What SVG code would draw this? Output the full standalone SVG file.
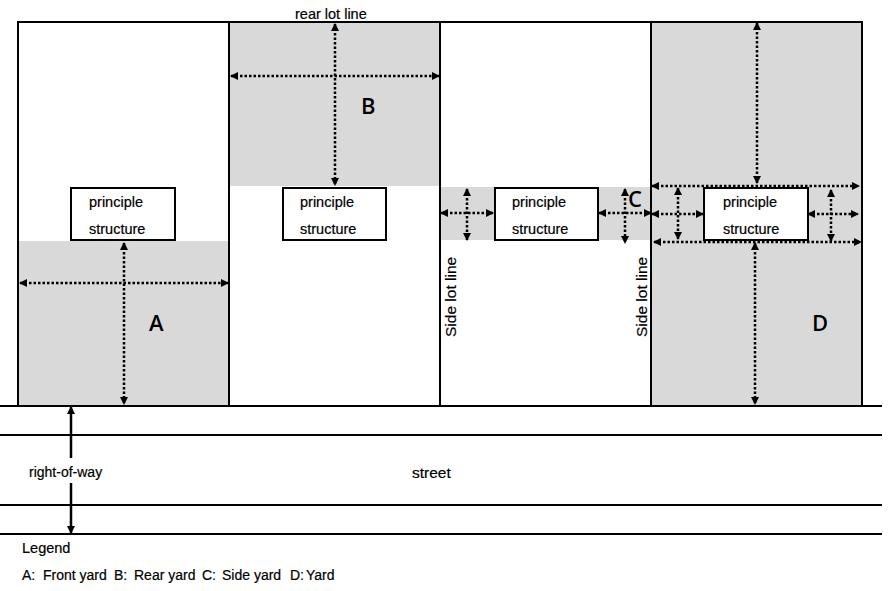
<svg xmlns="http://www.w3.org/2000/svg" width="889" height="591" viewBox="0 0 889 591">
<style>
.yard{fill:#d9d9d9}
.lot{fill:none;stroke:#000;stroke-width:2}
.road{stroke:#000;stroke-width:2}
.box{fill:#fff;stroke:#000;stroke-width:2}
.dot{fill:none;stroke:#000;stroke-width:2.5;stroke-dasharray:2.5 2;marker-start:url(#a);marker-end:url(#a)}
.sol{fill:none;stroke:#000;stroke-width:2.5}
text{font-family:"Liberation Sans",Arial,sans-serif;font-size:14.5px;fill:#000;stroke:#000;stroke-width:.2}
.tight{font-size:14px}
.side{font-size:15.5px}
.big{font-family:"Open Sans","Noto Sans",sans-serif;font-size:22px;font-weight:600;stroke:none}
</style>
<defs>
<marker id="a" viewBox="0 0 8 8" refX="7" refY="4" markerWidth="8" markerHeight="8" markerUnits="userSpaceOnUse" orient="auto-start-reverse"><path d="M0 0L8 4L0 8Z" fill="#000"/></marker>
</defs>
<rect width="889" height="591" fill="#fff"/>
<g id="yards">
<rect class="yard" x="19" y="241" width="210" height="164"/>
<rect class="yard" x="230" y="23" width="210" height="163"/>
<rect class="yard" x="441" y="187" width="210" height="53"/>
<rect class="yard" x="652" y="23" width="210" height="382"/>
</g>
<g id="lots">
<path class="lot" d="M18 405V22H862V405M229 22V405M440 22V405M651 22V405"/>
</g>
<g id="street-lines">
<path class="road" d="M0 406H882M0 435H882M0 505H882M0 534H882"/>
</g>
<g id="connectors">
<path class="dot" d="M124 243V404"/>
<path class="dot" d="M20 283H228"/>
<path class="dot" d="M335 24V185"/>
<path class="dot" d="M231 76H439"/>
<path class="dot" d="M467 189V240"/>
<path class="dot" d="M441 213H493"/>
<path class="dot" d="M625 189V243"/>
<path class="dot" d="M599 213H651"/>
<path class="dot" d="M757 23V183"/>
<path class="dot" d="M652 186H859"/>
<path class="dot" d="M654 242H861"/>
<path class="dot" d="M678 188V239"/>
<path class="dot" d="M652 214H703"/>
<path class="dot" d="M831 190V241"/>
<path class="dot" d="M808 214H858"/>
<path class="dot" d="M755 243V404"/>
<path class="sol" d="M71 407V458" marker-start="url(#a)"/>
<path class="sol" d="M71 483V533" marker-end="url(#a)"/>
</g>
<g id="structure-a"><rect class="box" x="71" y="188" width="104" height="52"/><text x="89" y="207">principle</text><text x="89" y="234">structure</text></g>
<g id="structure-b"><rect class="box" x="283" y="188" width="103" height="52"/><text x="300" y="207">principle</text><text x="300" y="234">structure</text></g>
<g id="structure-c"><rect class="box" x="495" y="188" width="103" height="52"/><text x="512" y="207">principle</text><text x="512" y="234">structure</text></g>
<g id="structure-d"><rect class="box" x="704" y="188" width="104" height="52"/><text x="723" y="207">principle</text><text x="723" y="234">structure</text></g>
<g id="labels">
<text x="295" y="19">rear lot line</text>
<text class="big" x="149" y="331">A</text>
<text class="big" x="361" y="114">B</text>
<text class="big" x="628" y="207">C</text>
<text class="big" x="812" y="331">D</text>
<text class="side" transform="translate(456 337) rotate(-90)">Side lot line</text>
<text class="side" transform="translate(647 337) rotate(-90)">Side lot line</text>
<text class="tight" x="29" y="477">right-of-way</text>
<text class="side" x="412" y="478">street</text>
<text x="22" y="553">Legend</text>
<text class="tight" x="22" y="580">A:</text>
<text class="tight" x="43" y="580">Front yard</text>
<text class="tight" x="114" y="580">B:</text>
<text class="tight" x="134" y="580">Rear yard</text>
<text class="tight" x="202" y="580">C:</text>
<text class="tight" x="222" y="580">Side yard</text>
<text class="tight" x="290" y="580">D:</text>
<text class="tight" x="306" y="580">Yard</text>
</g>
</svg>
